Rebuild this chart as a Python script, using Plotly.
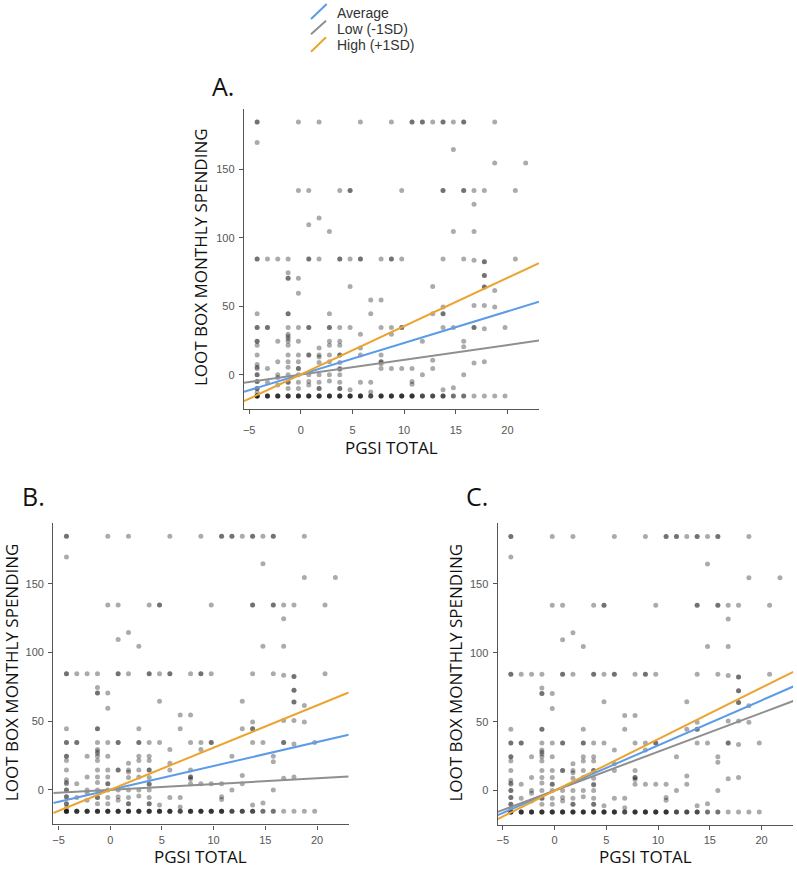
import plotly.graph_objects as go

# ---------------- data ----------------
# centred PGSI scores (distinct levels of the data)
pgsi_levels = [-4.23, -3.23, -2.23, -1.23, -0.23, 0.77, 1.77, 2.77, 3.77, 4.77,
               5.77, 6.77, 7.77, 8.77, 9.77, 10.77, 11.77, 12.77, 13.77, 14.77,
               15.77, 16.77, 17.77, 18.77, 19.77, 20.77, 21.77]

# centred monthly loot box spending of respondents at each PGSI level
spend_by_level = [
    [184.5, 184.5, 169.5, 84.5, 84.5, 44.5, 34.5, 34.5, 24.5, 24.5, 21.5, 14.5, 7.5, 5.5, 4.5,
     0, 0, -5, -5, -10, -10, -13, -15.5, -15.5, -15.5, -15.5, -15.5],
    [84.5, 34.5, 34.5, 4.5, -5.5, -15.5, -15.5, -15.5, -15.5],
    [84.5, 24.5, 9.5, 0, -2, -7.5, -15.5, -15.5, -15.5, -15.5],
    [84.5, 74.5, 70.5, 70.5, 44.5, 44.5, 34.5, 29.5, 28, 26.5, 24.5, 21.5, 14.5, 9.5, 5.5, 0,
     -5.5, -5.5, -10, -15.5, -15.5, -15.5, -15.5],
    [184.5, 134.5, 70.5, 59.5, 34.5, 24.5, 14.5, 9.5, 4.5, 4.5, 0, -5.5, -10,
     -15.5, -15.5, -15.5, -15.5],
    [134.5, 109.5, 84.5, 84.5, 34.5, 34.5, 14.5, 14.5, 0, -5, -7.5, -15.5, -15.5, -15.5, -15.5],
    [184.5, 114.5, 84.5, 19.5, 14.5, 13, 9, 0, -5.5, -10, -10, -15.5, -15.5, -15.5, -15.5],
    [104.5, 44.5, 34.5, 34.5, 24.5, 21.5, 14.5, 9.5, 0, -4.5, -15.5, -15.5, -15.5, -15.5],
    [134.5, 84.5, 84.5, 34.5, 24.5, 21.5, 14.5, 14.5, 9, 4, 4.5, 0, -5.5, -10, -10,
     -15.5, -15.5, -15.5, -15.5],
    [134.5, 134.5, 84.5, 64.5, 34.5, -11, -15.5, -15.5, -15.5, -15.5],
    [184.5, 84.5, 84.5, 29.5, 19.5, 14.5, -5.5, -15.5, -15.5, -15.5, -15.5],
    [54.5, 44.5, -5.5, -12.5, -15.5, -15.5, -15.5],
    [84.5, 54.5, 34.5, 14.5, 9.5, 9.5, 8, 4.5, -15.5, -15.5, -15.5, -15.5],
    [184.5, 84.5, 84.5, 34.5, 29.5, 4.5, -15.5, -15.5, -15.5, -15.5],
    [134.5, 84.5, 34.5, 34.5, 4.5, -15.5, -15.5, -15.5, -15.5],
    [184.5, 184.5, 4.5, -5, -7, -15.5, -15.5, -15.5, -15.5],
    [184.5, 184.5, 24.5, 0, -15.5, -15.5, -15.5],
    [184.5, 64.5, 44.5, 10.5, 4.5, -15.5, -15.5, -15.5],
    [184.5, 184.5, 134.5, 134.5, 84.5, 49.5, 44.5, 44.5, 34.5, -11, -15.5, -15.5, -15.5],
    [184.5, 164.5, 104.5, 34.5, -9.5, -15.5, -15.5],
    [184.5, 184.5, 134.5, 134.5, 84.5, 24.5, 20.5, 0, -15.5, -15.5],
    [134.5, 124.5, 104.5, 83.5, 50.5, 34.5, 34.5, 8.5, -15.5],
    [134.5, 82.5, 82.5, 72.5, 72.5, 64, 64, 50.5, 33.5, 9.5, -15.5],
    [184.5, 154.5, 61.5, 49.5, -15.5],
    [34.5, -15.5],
    [134.5, 84.5],
    [154.5],
]

# simple slopes (intercept, slope) for each moderator level, per panel
line_names = ["Average", "Low (-1SD)", "High (+1SD)"]
line_colors = ["#5b9be8", "#8f8f8f", "#eba42f"]
panels = ["A.", "B.", "C."]
intercepts_A = [0.2, 0.1, 0.15]
slopes_A = [2.30, 1.08, 3.53]
intercepts_B = [0.1, 0.1, 0.1]
slopes_B = [1.735, 0.416, 3.07]
intercepts_C = [0.1, 0.0, -0.1]
slopes_C = [3.27, 2.82, 3.74]

x_ticks = [-5, 0, 5, 10, 15, 20]
y_ticks = [0, 50, 100, 150]
x_range = [-5.5, 23.06]
y_range = [-25.0, 194.0]

# ---------------- figure ----------------
W, H = 797, 871
pts_x, pts_y = [], []
for xv, ys in zip(pgsi_levels, spend_by_level):
    for yv in ys:
        pts_x.append(xv)
        pts_y.append(yv)

fig = go.Figure()

# panel boxes in pixels: (left, right, top, bottom), x tick label standoff
boxes = [(244, 539, 109, 409, 7), (53.3, 348.7, 523.3, 824.3, 1), (497.7, 793.3, 523.3, 825, 1)]
coefs = [(intercepts_A, slopes_A), (intercepts_B, slopes_B), (intercepts_C, slopes_C)]

for i, (box, (ints, slps)) in enumerate(zip(boxes, coefs)):
    sfx = "" if i == 0 else str(i + 1)
    xa, ya = "x" + sfx, "y" + sfx
    fig.add_trace(go.Scatter(
        x=pts_x, y=pts_y, mode="markers", xaxis=xa, yaxis=ya,
        marker=dict(size=5, color="rgba(0,0,0,0.33)", line=dict(width=0)),
        showlegend=False, hoverinfo="skip"))
    for name, col, a, b in zip(line_names, line_colors, ints, slps):
        lx = x_range
        ly = [a + b * v for v in lx]
        fig.add_trace(go.Scatter(
            x=lx, y=ly, mode="lines", xaxis=xa, yaxis=ya, name=name,
            line=dict(color=col, width=2), showlegend=False))

    l, r, t, b_, so = box
    axis_common = dict(showgrid=False, zeroline=False, showline=True,
                       linecolor="#555555", linewidth=1.4, ticks="outside",
                       ticklen=4, tickcolor="#555555", tickwidth=1.2,
                       tickfont=dict(family="Liberation Sans, Arial", size=11, color="#555555"))
    fig.update_layout(**{
        "xaxis" + sfx: dict(domain=[l / W, r / W], range=x_range, tickvals=x_ticks,
                            anchor=ya, ticklabelstandoff=so, **axis_common),
        "yaxis" + sfx: dict(domain=[1 - b_ / H, 1 - t / H], range=y_range, tickvals=y_ticks,
                            anchor=xa, ticklabelstandoff=2, **axis_common),
    })

annotations = []
title_font = dict(family="Open Sans", size=17, color="#111111")
# panel labels
for txt, (px, py) in zip(panels, [(222.7, 85.7), (33, 496), (477, 496)]):
    annotations.append(dict(text=txt, x=px / W, y=1 - py / H, xref="paper", yref="paper",
                            showarrow=False, xanchor="center", yanchor="middle",
                            font=dict(family="Open Sans", size=25, color="#111111")))
# y titles
for px, py in [(200.5, 257.5), (11.7, 672.5), (455, 672.5)]:
    annotations.append(dict(text="LOOT BOX MONTHLY SPENDING", x=px / W, y=1 - py / H,
                            xref="paper", yref="paper", showarrow=False, textangle=-90,
                            xanchor="center", yanchor="middle", font=title_font))
# x titles
for px, py in [(391.5, 447), (201, 856), (645.5, 856)]:
    annotations.append(dict(text="PGSI TOTAL", x=px / W, y=1 - py / H,
                            xref="paper", yref="paper", showarrow=False,
                            xanchor="center", yanchor="middle", borderpad=0,
                            font=dict(family="Open Sans", size=17, color="#111111")))

# legend (drawn manually with diagonal glyphs)
shapes = []
leg_glyphs = [((311, 19), (326.7, 4)), ((311, 34.3), (326, 20.7)), ((311, 51.7), (326, 37.3))]
leg_text_y = [13.3, 29.3, 45]
for name, col, ((x0, y0), (x1, y1)), ty in zip(line_names, line_colors, leg_glyphs, leg_text_y):
    shapes.append(dict(type="line", xref="paper", yref="paper",
                       x0=x0 / W, y0=1 - y0 / H, x1=x1 / W, y1=1 - y1 / H,
                       line=dict(color=col, width=2)))
    annotations.append(dict(text=name, x=335 / W, y=1 - ty / H, xref="paper", yref="paper",
                            showarrow=False, xanchor="left", yanchor="middle",
                            font=dict(family="Liberation Sans, Arial", size=14, color="#333333")))

fig.update_layout(width=W, height=H, margin=dict(l=0, r=0, t=0, b=0),
                  paper_bgcolor="white", plot_bgcolor="white",
                  annotations=annotations, shapes=shapes, showlegend=False)

fig.write_html("out.html")
